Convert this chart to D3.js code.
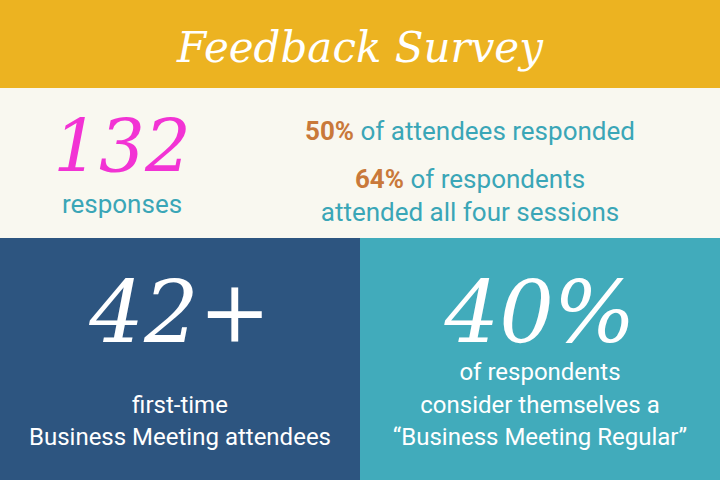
<!DOCTYPE html>
<html>
<head>
<meta charset="utf-8">
<script src="https://d3js.org/d3.v7.min.js"></script>
<style>
  body { margin: 0; }
  svg { display: block; }
</style>
</head>
<body>
<script>
const title = "Feedback Survey";
const headline = { value: "132", label: "responses" };
const facts = [
  { pct: "50%", lines: [" of attendees responded"] },
  { pct: "64%", lines: [" of respondents", "attended all four sessions"] }
];
const panels = ["42+", "40%"];
const panelLines = [
  ["first-time", "Business Meeting attendees"],
  ["of respondents", "consider themselves a", "\u201cBusiness Meeting Regular\u201d"]
];
const panelColors = ["#2d5580", "#41abbb"];

const width = 720, height = 480;
const handFont = "'DejaVu Serif', serif";
const bodyFont = "Roboto, sans-serif";

const svg = d3.select("body").append("svg")
  .attr("width", width).attr("height", height);

// bands
svg.append("rect").attr("width", width).attr("height", 88).attr("fill", "#ecb321");
svg.append("rect").attr("y", 88).attr("width", width).attr("height", 150).attr("fill", "#f9f8f0");

svg.append("text")
  .attr("x", width / 2).attr("y", 62)
  .attr("text-anchor", "middle")
  .attr("fill", "#fff")
  .style("font", `italic 42px ${handFont}`)
  .text(title);

// headline
svg.append("text")
  .attr("x", 122).attr("y", 172)
  .attr("text-anchor", "middle")
  .attr("fill", "#f233d4")
  .style("font", `italic 72px ${handFont}`)
  .text(headline.value);
svg.append("text")
  .attr("x", 122).attr("y", 213)
  .attr("text-anchor", "middle")
  .attr("fill", "#3aa6b7")
  .style("font", `26px ${bodyFont}`)
  .text(headline.label);

// facts
const factY = [140, 188];
facts.forEach((f, i) => {
  f.lines.forEach((line, j) => {
    const t = svg.append("text")
      .attr("x", 470).attr("y", factY[i] + j * 33)
      .attr("text-anchor", "middle")
      .attr("fill", "#3aa6b7")
      .style("font", `26px ${bodyFont}`);
    if (j === 0) {
      t.append("tspan").attr("fill", "#c9793a").attr("font-weight", "bold").text(f.pct);
    }
    t.append("tspan").text(line);
  });
});

// bottom panels
const x = d3.scaleBand().domain(d3.range(panels.length)).range([0, width]);
const g = svg.selectAll("g.panel").data(panels).join("g")
  .attr("class", "panel")
  .attr("transform", (d, i) => `translate(${x(i)},238)`);
g.append("rect")
  .attr("width", x.bandwidth()).attr("height", height - 238)
  .attr("fill", (d, i) => panelColors[i]);
g.append("text")
  .attr("x", x.bandwidth() / 2).attr("y", 104)
  .attr("text-anchor", "middle")
  .attr("fill", "#fff")
  .style("font", `italic 86px ${handFont}`)
  .text(d => d);
g.each(function (d, i) {
  const lines = panelLines[i];
  const y0 = 207 - (lines.length - 1) * 32.5;
  d3.select(this).selectAll("text.line").data(lines).join("text")
    .attr("class", "line")
    .attr("x", x.bandwidth() / 2)
    .attr("y", (l, j) => y0 + j * 32.5)
    .attr("text-anchor", "middle")
    .attr("fill", "#fff")
    .style("font", `24px ${bodyFont}`)
    .text(l => l);
});
</script>
</body>
</html>
